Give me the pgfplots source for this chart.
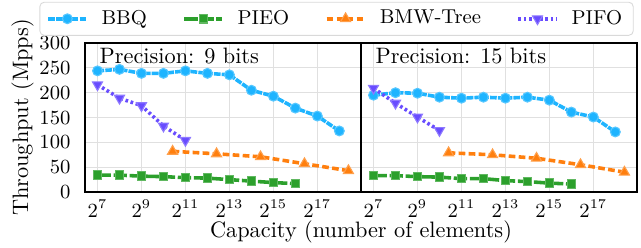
\documentclass[border=0pt]{standalone}
\usepackage{pgfplots}
\pgfplotsset{compat=1.18}
\definecolor{cBBQ}{RGB}{30,180,255}
\definecolor{cPIEO}{RGB}{44,160,44}
\definecolor{cBMW}{RGB}{255,127,14}
\definecolor{cPIFO}{RGB}{104,76,255}
\pgfplotsset{
  panel/.style={
    scale only axis, width=123.75pt, height=66.8pt,
    xmin=6.43, xmax=18.985, ymin=0, ymax=300,
    xtick={7,9,11,13,15,17},
    xticklabel={$2^{\pgfmathprintnumber{\tick}}$},
    ytick={0,50,100,150,200,250,300},
    grid=major, major grid style={black!12, line width=0.5pt},
    major tick length=0pt,
    axis line style={line width=0.6pt},
    tick label style={font=\fontsize{9}{10}\selectfont},
    yticklabel shift=3pt,
    clip mode=individual,
  },
  sBBQ/.style={color=cBBQ, line width=1.6pt, dash pattern=on 3pt off 0.5pt, mark=*, mark size=2.2pt, mark options={solid, fill=cBBQ, draw=cBBQ!75!white, line width=0.5pt}},
  sPIEO/.style={color=cPIEO, line width=1.6pt, dash pattern=on 6pt off 1.2pt, mark=square*, mark size=1.9pt, mark options={solid, fill=cPIEO, draw=cPIEO!75!white, line width=0.5pt}},
  sBMW/.style={color=cBMW, line width=1.6pt, dash pattern=on 3pt off 1.5pt, mark=triangle*, mark size=2.6pt, mark options={solid, fill=cBMW, draw=cBMW!75!white, line width=0.5pt}},
  sPIFO/.style={color=cPIFO, line width=1.6pt, dash pattern=on 1.2pt off 1.2pt, mark=triangle*, mark size=2.6pt, mark options={solid, rotate=180, fill=cPIFO, draw=cPIFO!75!white, line width=0.5pt}},
}
\begin{document}
\begin{tikzpicture}
\path[use as bounding box] (-38.1pt,-24.7pt) rectangle (249.3pt,86.1pt);
\begin{axis}[panel,
  ylabel={Throughput (Mpps)},
  ylabel style={at={(axis description cs:-0.2263,0.5)}, anchor=center, font=\fontsize{10}{12}\selectfont},
  xlabel={Capacity (number of elements)},
  xlabel style={at={(axis description cs:1,-0.308)}, anchor=base, font=\fontsize{10}{12}\selectfont},
  legend style={at={(0.9115,1.163)}, anchor=center, legend columns=4,
    draw=black!15, rounded corners=2pt, font=\fontsize{9}{10}\selectfont,
    inner ysep=1.5pt,
    /tikz/every odd column/.append style={column sep=4pt},
    /tikz/every even column/.append style={column sep=14pt}},
]
\addplot[sBBQ] coordinates {(7,244)(8,247)(9,239)(10,239)(11,244)(12,239)(13,236)(14,205)(15,193)(16,169)(17,153)(18,123)};
\addlegendentry{BBQ}
\addplot[sPIEO] coordinates {(7,34)(8,34)(9,32)(10,31)(11,29)(12,28)(13,25)(14,22)(15,19)(16,17)};
\addlegendentry{PIEO}
\addplot[sBMW] coordinates {(10.415,82)(12.415,77)(14.415,71)(16.415,57)(18.415,43)};
\addlegendentry{BMW-Tree}
\addplot[sPIFO] coordinates {(7,216)(8,189)(9,174)(10,133)(11,104)};
\addlegendentry{PIFO}
\node[anchor=north west, inner sep=0pt, xshift=6.4pt, yshift=-2pt, font=\fontsize{10}{12}\selectfont] at (rel axis cs:0,1) {Precision: 9 bits};
\end{axis}
\begin{axis}[panel, at={(123.75pt,0pt)}, yticklabels={}]
\addplot[sBBQ] coordinates {(7,195)(8,200)(9,199)(10,191)(11,189)(12,191)(13,189)(14,191)(15,185)(16,161)(17,151)(18,121)};
\addplot[sPIEO] coordinates {(7,33)(8,33)(9,31)(10,30)(11,27)(12,27)(13,23)(14,21)(15,18)(16,16)};
\addplot[sBMW] coordinates {(10.415,79)(12.415,75)(14.415,68)(16.415,55)(18.415,40)};
\addplot[sPIFO] coordinates {(7,209)(8,179)(9,151)(10,124)};
\node[anchor=north west, inner sep=0pt, xshift=6.4pt, yshift=-2pt, font=\fontsize{10}{12}\selectfont] at (rel axis cs:0,1) {Precision: 15 bits};
\end{axis}
\end{tikzpicture}
\end{document}
